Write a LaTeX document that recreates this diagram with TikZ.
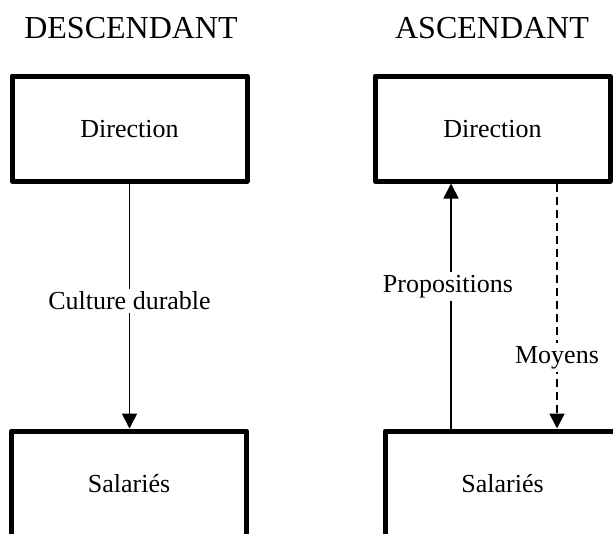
\documentclass[tikz,border=0pt]{standalone}
\usepackage{fontspec}
\setmainfont{Liberation Serif}
\usetikzlibrary{arrows.meta}

\tikzset{
    bloc/.style={draw, line width=5pt, line join=round, minimum width=235pt, minimum height=105pt, text depth=0pt, font=\fontsize{26}{30}\selectfont},
    fleche/.style={line width=1.8pt, -{Triangle[width=15pt,length=15pt]}},
    etiquette/.style={fill=white, inner sep=3pt, font=\fontsize{26}{30}\selectfont},
    titre/.style={font=\fontsize{32}{36}\selectfont}
}

\begin{document}
\begin{tikzpicture}[x=1pt, y=-1pt]
    \useasboundingbox (0,0) rectangle (613,533);
    \clip (0,0) rectangle (613,533);
    \node[titre] (desc) at (131,28) {DESCENDANT};
    \node[titre] (asc) at (492,28) {ASCENDANT};
    % descendant
    \node[bloc] (dirL) at (129.5,128.5) {Direction};
    \node[bloc] (salL) at (129,483.5) {Salariés};
    \draw[fleche] (dirL.south) -- node[etiquette, pos=0.48] {Culture durable} (dirL.south |- salL.north);
    % ascendant
    \node[bloc] (dirR) at (492.5,128.5) {Direction};
    \node[bloc] (salR) at (502.5,483.5) {Salariés};
    \coordinate (prop) at (451,300);
    \coordinate (moy) at (557,300);
    \draw[fleche] (prop |- salR.north) -- node[etiquette, pos=0.58, xshift=-3pt] {Propositions} (prop |- dirR.south);
    \draw[fleche, dash pattern=on 8pt off 5pt] (moy |- dirR.south) -- node[etiquette, pos=0.71] {Moyens} (moy |- salR.north);
\end{tikzpicture}
\end{document}
